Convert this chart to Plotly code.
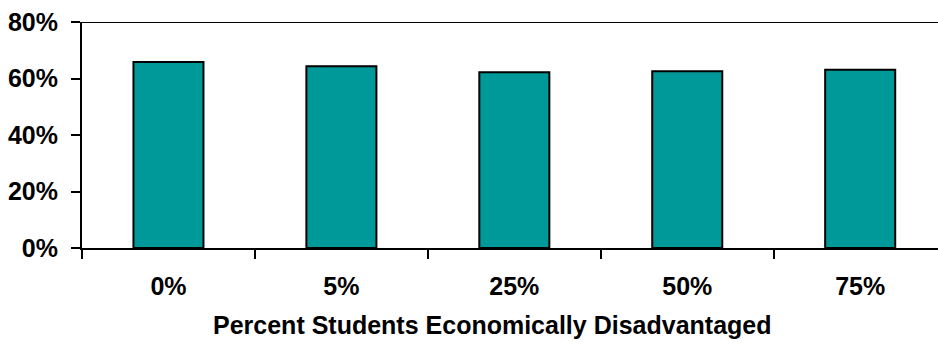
import plotly.graph_objects as go

categories = ["0%", "5%", "25%", "50%", "75%"]
values = [65.8, 64.3, 62.2, 62.6, 63.1]
y_ticks = [0, 20, 40, 60, 80]
y_tick_labels = ["0%", "20%", "40%", "60%", "80%"]
x_title = "Percent Students Economically Disadvantaged"

font_family = "Liberation Sans, Arial, sans-serif"

fig = go.Figure(
    go.Bar(
        x=categories,
        y=values,
        width=0.405,
        marker=dict(color="#009999", line=dict(color="#000000", width=2)),
    )
)

fig.update_layout(
    width=938,
    height=345,
    margin=dict(l=82, r=0, t=22, b=97),
    paper_bgcolor="white",
    plot_bgcolor="white",
    showlegend=False,
    font=dict(family=font_family, color="#000000"),
    shapes=[
        # top frame line at the 80% level
        dict(type="line", xref="paper", yref="y", x0=0, x1=1, y0=80, y1=80,
             line=dict(color="#000000", width=2)),
    ],
    annotations=[
        dict(text=f"<b>{x_title}</b>", xref="paper", yref="paper",
             x=0.479, y=-0.341, xanchor="center", yanchor="middle",
             showarrow=False, font=dict(size=25, family=font_family)),
    ],
)

fig.update_xaxes(
    type="category",
    range=[-0.5, 4.45],
    tickson="boundaries",
    ticks="outside",
    ticklen=9,
    tickwidth=2,
    tickcolor="#000000",
    showline=True,
    linecolor="#000000",
    linewidth=2,
    showgrid=False,
    ticklabelstandoff=15,
    tickfont=dict(size=25, family=font_family, weight="bold"),
)

fig.update_yaxes(
    range=[0, 80],
    tickvals=y_ticks,
    ticktext=y_tick_labels,
    ticks="outside",
    ticklen=9,
    tickwidth=2,
    tickcolor="#000000",
    showline=True,
    linecolor="#000000",
    linewidth=2,
    showgrid=False,
    zeroline=False,
    ticklabelstandoff=8,
    tickfont=dict(size=25, family=font_family, weight="bold"),
)

fig.write_html("out.html")
